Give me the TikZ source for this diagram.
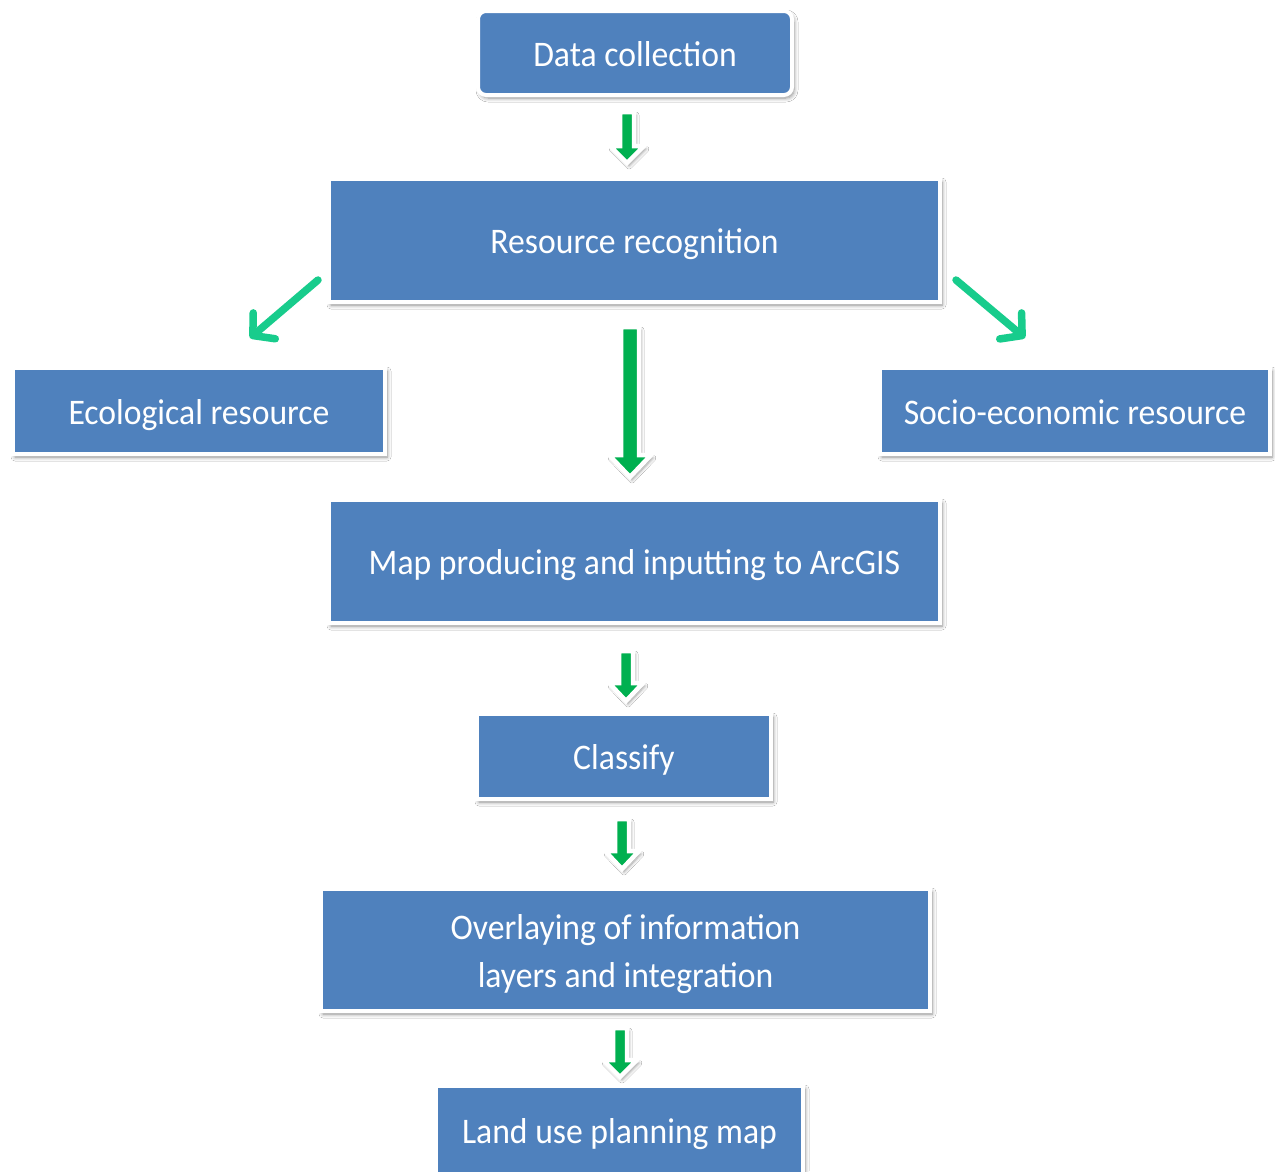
\documentclass[tikz,border=0pt]{standalone}
\usepackage{fontspec}
\setmainfont{Carlito}[FakeStretch=0.935]
\usetikzlibrary{arrows.meta,calc,shadows.blur}
\definecolor{boxblue}{RGB}{79,129,189}
\definecolor{arrgreen}{RGB}{0,176,80}
\definecolor{diaggreen}{RGB}{24,204,140}
\tikzset{
  box/.style={fill=boxblue, draw=white, line width=4pt, text=white, inner sep=0pt,
    font=\fontsize{36}{48}\selectfont, align=center, text height=26pt, text depth=0pt,
    blur shadow={shadow xshift=2pt, shadow yshift=-3pt, shadow blur steps=6, shadow opacity=45, shadow blur radius=4pt}},
  blockarrow/.style={fill=arrgreen, draw=white, line width=4.5pt, line join=miter,
    blur shadow={shadow xshift=2pt, shadow yshift=-3pt, shadow blur steps=6, shadow opacity=40, shadow blur radius=3pt}},
  diagarrow/.style={draw=diaggreen, line width=7.5pt, line cap=round,
    -{Straight Barb[length=15pt, width=34pt, round]}}
}
\newcommand\barrow[7]{%
  \coordinate (#1s) at (#2,#3);
  \coordinate (#1t) at (#2,#5);
  \path[blockarrow] ({#2-#6},#3) -- ({#2+#6},#3) -- ({#2+#6},#4) -- ({#2+#7},#4)
    -- (#1t) -- ({#2-#7},#4) -- ({#2-#6},#4) -- cycle;
}
\begin{document}
\begin{tikzpicture}[x=1pt,y=-1pt]
\useasboundingbox (0,0) rectangle (1275,1171);
\clip (0,0) rectangle (1275,1171);
\fill[white] (0,0) rectangle (1275,1171);

\node[box, minimum width=314, minimum height=84, rounded corners=8pt] (dc) at (635,53) {Data collection};
\node[box, minimum width=611, minimum height=123] (rr) at (634.5,240.5) {Resource recognition};
\node[box, minimum width=372, minimum height=86] (eco) at (199,411) {Ecological resource};
\node[box, minimum width=390, minimum height=86] (soc) at (1075,411) {Socio-economic resource};
\node[box, minimum width=611, minimum height=123] (map) at (634.5,561.5) {Map producing and inputting to ArcGIS};
\node[box, minimum width=294, minimum height=85] (cls) at (624,756.5) {Classify};
\node[box, minimum width=609, minimum height=122, text height=74pt, text depth=0pt] (ovl) at (625.5,950) {Overlaying of information\\layers and integration};
\node[box, minimum width=367, minimum height=88] (lup) at (619.5,1130) {Land use planning map};

\barrow{a1}{627}{112}{146}{163}{7}{17}
\barrow{a2}{630}{327}{455}{477}{9}{21}
\barrow{a3}{626}{651}{683}{701}{7}{17}
\barrow{a4}{622}{819}{851}{869}{7}{17}
\barrow{a5}{620}{1028}{1060}{1077}{7}{17}

\coordinate (dls) at (318,280);
\coordinate (dle) at (250,338);
\coordinate (drs) at (956,280);
\coordinate (dre) at (1025,338);
\draw[diagarrow] (dls) -- (dle);
\draw[diagarrow] (drs) -- (dre);
\end{tikzpicture}
\end{document}
